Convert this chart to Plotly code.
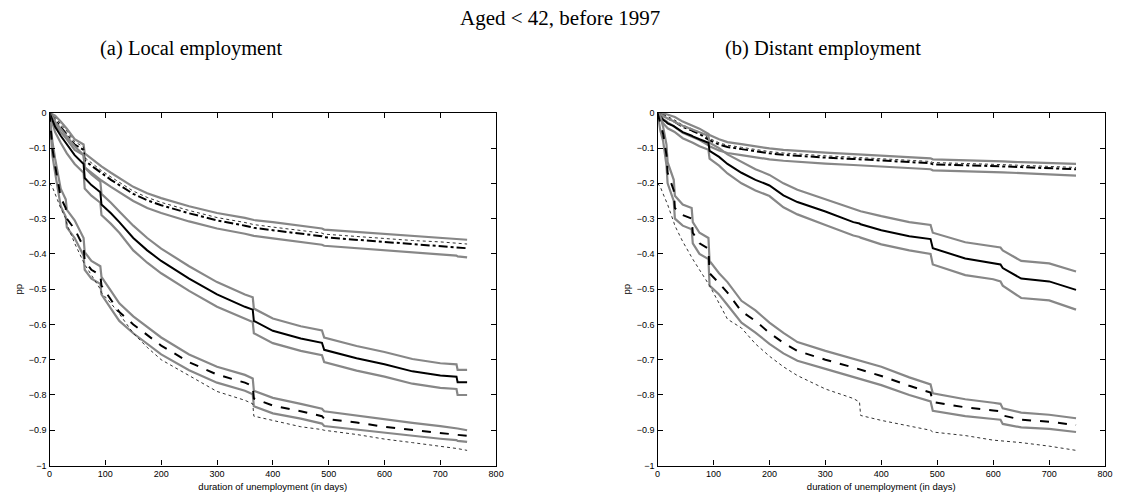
import plotly.graph_objects as go

# ---------------- data: left panel (a) Local employment ----------------
X_L = [0, 5, 10, 20, 29, 31, 45, 61, 63, 75, 91, 93, 110, 125, 150, 175, 200, 250, 300, 350, 364, 366, 400, 450, 488, 492, 550, 600, 650, 700, 729, 731, 748]

L_top = [0, -0.01, -0.02, -0.04, -0.055, -0.06, -0.09, -0.105, -0.135, -0.15, -0.168, -0.172, -0.19, -0.205, -0.23, -0.248, -0.262, -0.285, -0.305, -0.32, -0.324, -0.326, -0.333, -0.343, -0.35, -0.353, -0.36, -0.366, -0.372, -0.377, -0.38, -0.382, -0.384]
L_top_up = [0, -0.003, -0.008, -0.025, -0.04, -0.045, -0.075, -0.09, -0.115, -0.13, -0.148, -0.152, -0.17, -0.185, -0.21, -0.228, -0.242, -0.265, -0.284, -0.298, -0.302, -0.304, -0.31, -0.32, -0.328, -0.331, -0.338, -0.344, -0.35, -0.355, -0.358, -0.359, -0.36]
L_top_lo = [0, -0.017, -0.032, -0.055, -0.07, -0.075, -0.105, -0.12, -0.155, -0.17, -0.188, -0.192, -0.21, -0.225, -0.25, -0.27, -0.284, -0.308, -0.328, -0.343, -0.347, -0.349, -0.356, -0.366, -0.374, -0.377, -0.384, -0.39, -0.396, -0.401, -0.405, -0.407, -0.41]
L_top_dot = [0, -0.005, -0.013, -0.032, -0.047, -0.052, -0.082, -0.097, -0.127, -0.142, -0.16, -0.164, -0.182, -0.197, -0.222, -0.24, -0.254, -0.277, -0.297, -0.311, -0.315, -0.317, -0.324, -0.334, -0.341, -0.344, -0.351, -0.357, -0.362, -0.366, -0.369, -0.37, -0.372]

L_mid = [0, -0.02, -0.04, -0.065, -0.085, -0.09, -0.12, -0.145, -0.185, -0.205, -0.225, -0.26, -0.285, -0.31, -0.355, -0.39, -0.42, -0.47, -0.515, -0.55, -0.558, -0.59, -0.618, -0.64, -0.652, -0.672, -0.696, -0.713, -0.733, -0.745, -0.748, -0.764, -0.764]
L_mid_up = [0, -0.01, -0.025, -0.045, -0.06, -0.065, -0.095, -0.12, -0.155, -0.175, -0.195, -0.23, -0.255, -0.28, -0.32, -0.355, -0.385, -0.435, -0.48, -0.515, -0.523, -0.555, -0.583, -0.605, -0.617, -0.637, -0.661, -0.678, -0.698, -0.71, -0.713, -0.729, -0.729]
L_mid_lo = [0, -0.03, -0.055, -0.085, -0.11, -0.115, -0.145, -0.17, -0.215, -0.235, -0.255, -0.29, -0.315, -0.34, -0.39, -0.425, -0.455, -0.505, -0.55, -0.585, -0.593, -0.625, -0.653, -0.675, -0.687, -0.707, -0.731, -0.748, -0.768, -0.78, -0.783, -0.80, -0.80]

L_bot = [0, -0.10, -0.15, -0.24, -0.27, -0.30, -0.33, -0.38, -0.42, -0.445, -0.46, -0.49, -0.53, -0.565, -0.60, -0.63, -0.66, -0.707, -0.742, -0.765, -0.775, -0.81, -0.83, -0.846, -0.86, -0.867, -0.878, -0.89, -0.898, -0.907, -0.911, -0.913, -0.916]
L_bot_up = [0, -0.08, -0.13, -0.215, -0.245, -0.275, -0.305, -0.355, -0.395, -0.42, -0.435, -0.465, -0.505, -0.54, -0.577, -0.607, -0.637, -0.685, -0.72, -0.743, -0.753, -0.788, -0.808, -0.825, -0.839, -0.846, -0.858, -0.87, -0.879, -0.888, -0.893, -0.895, -0.9]
L_bot_lo = [0, -0.12, -0.17, -0.265, -0.295, -0.325, -0.355, -0.405, -0.445, -0.47, -0.485, -0.515, -0.555, -0.59, -0.625, -0.655, -0.685, -0.73, -0.765, -0.788, -0.798, -0.832, -0.852, -0.867, -0.881, -0.888, -0.898, -0.908, -0.916, -0.924, -0.928, -0.93, -0.933]
L_bot_dot = [-0.2, -0.21, -0.23, -0.27, -0.3, -0.315, -0.37, -0.42, -0.43, -0.46, -0.5, -0.51, -0.54, -0.57, -0.625, -0.665, -0.70, -0.745, -0.79, -0.815, -0.825, -0.86, -0.872, -0.89, -0.898, -0.90, -0.912, -0.925, -0.935, -0.945, -0.951, -0.952, -0.957]

# ---------------- data: right panel (b) Distant employment ----------------
X_R = [0, 5, 10, 16, 18, 29, 31, 45, 61, 63, 75, 91, 93, 110, 125, 150, 175, 200, 225, 250, 300, 350, 361, 363, 400, 450, 488, 492, 550, 600, 613, 617, 650, 700, 748]

R_top = [0, -0.005, -0.01, -0.014, -0.016, -0.024, -0.026, -0.04, -0.05, -0.052, -0.06, -0.075, -0.078, -0.09, -0.097, -0.103, -0.11, -0.115, -0.119, -0.122, -0.127, -0.131, -0.132, -0.133, -0.136, -0.14, -0.143, -0.146, -0.148, -0.15, -0.151, -0.152, -0.154, -0.157, -0.16]
R_top_up = [0, 0, -0.002, -0.004, -0.005, -0.011, -0.012, -0.025, -0.035, -0.037, -0.045, -0.06, -0.063, -0.075, -0.083, -0.089, -0.096, -0.101, -0.105, -0.108, -0.113, -0.117, -0.118, -0.119, -0.122, -0.126, -0.129, -0.132, -0.134, -0.136, -0.137, -0.138, -0.14, -0.142, -0.145]
R_top_lo = [0, -0.01, -0.018, -0.024, -0.027, -0.038, -0.041, -0.057, -0.067, -0.069, -0.077, -0.092, -0.095, -0.107, -0.114, -0.12, -0.127, -0.132, -0.136, -0.139, -0.144, -0.148, -0.149, -0.15, -0.153, -0.157, -0.16, -0.163, -0.165, -0.167, -0.168, -0.169, -0.171, -0.174, -0.178]
R_top_dot = [0, -0.002, -0.005, -0.009, -0.011, -0.019, -0.021, -0.035, -0.045, -0.047, -0.055, -0.07, -0.073, -0.085, -0.092, -0.098, -0.105, -0.11, -0.114, -0.117, -0.122, -0.126, -0.127, -0.128, -0.131, -0.135, -0.138, -0.141, -0.143, -0.145, -0.146, -0.147, -0.149, -0.152, -0.155]

R_mid = [0, -0.01, -0.02, -0.027, -0.03, -0.038, -0.04, -0.055, -0.065, -0.067, -0.075, -0.085, -0.108, -0.125, -0.145, -0.17, -0.19, -0.206, -0.234, -0.253, -0.28, -0.31, -0.314, -0.316, -0.333, -0.35, -0.358, -0.384, -0.413, -0.425, -0.43, -0.44, -0.47, -0.478, -0.502]
R_mid_up = [0, -0.005, -0.01, -0.014, -0.016, -0.024, -0.026, -0.037, -0.047, -0.049, -0.057, -0.065, -0.085, -0.1, -0.118, -0.14, -0.16, -0.176, -0.2, -0.218, -0.245, -0.273, -0.277, -0.279, -0.293, -0.31, -0.318, -0.34, -0.367, -0.378, -0.382, -0.39, -0.42, -0.427, -0.45]
R_mid_lo = [0, -0.015, -0.03, -0.04, -0.044, -0.053, -0.055, -0.072, -0.083, -0.085, -0.095, -0.105, -0.13, -0.15, -0.172, -0.2, -0.22, -0.236, -0.268, -0.288, -0.318, -0.348, -0.352, -0.354, -0.373, -0.39, -0.4, -0.43, -0.46, -0.472, -0.478, -0.49, -0.525, -0.532, -0.558]

R_bot = [0, -0.03, -0.06, -0.12, -0.17, -0.22, -0.27, -0.29, -0.30, -0.34, -0.37, -0.385, -0.455, -0.483, -0.51, -0.563, -0.59, -0.624, -0.652, -0.675, -0.70, -0.722, -0.727, -0.729, -0.746, -0.774, -0.793, -0.82, -0.835, -0.844, -0.846, -0.858, -0.87, -0.876, -0.885]
R_bot_up = [0, -0.01, -0.04, -0.09, -0.14, -0.19, -0.235, -0.26, -0.27, -0.31, -0.34, -0.355, -0.42, -0.455, -0.48, -0.533, -0.56, -0.595, -0.624, -0.65, -0.675, -0.698, -0.703, -0.705, -0.72, -0.75, -0.77, -0.795, -0.812, -0.822, -0.825, -0.838, -0.85, -0.856, -0.866]
R_bot_lo = [0, -0.05, -0.08, -0.15, -0.2, -0.25, -0.3, -0.32, -0.33, -0.37, -0.4, -0.415, -0.49, -0.515, -0.545, -0.595, -0.623, -0.655, -0.682, -0.703, -0.726, -0.748, -0.753, -0.755, -0.772, -0.8, -0.818, -0.845, -0.86, -0.868, -0.87, -0.882, -0.892, -0.896, -0.905]
R_bot_dot = [-0.2, -0.21, -0.23, -0.25, -0.26, -0.31, -0.32, -0.365, -0.41, -0.415, -0.445, -0.485, -0.49, -0.54, -0.585, -0.61, -0.655, -0.69, -0.72, -0.745, -0.783, -0.81, -0.82, -0.858, -0.872, -0.888, -0.9, -0.905, -0.915, -0.928, -0.93, -0.931, -0.935, -0.945, -0.957]

TITLE = "Aged &lt; 42, before 1997"
SUB_A = "(a) Local employment"
SUB_B = "(b) Distant employment"
X_TITLE = "duration of unemployment (in days)"
Y_TITLE = "pp"

GREY = "#878787"
fig = go.Figure()


def add_panel(X, groups, xa, ya):
    for (center, up, lo, dot, dash) in groups:
        for band in (up, lo):
            fig.add_trace(go.Scatter(x=X, y=band, mode="lines", line=dict(color=GREY, width=2.2),
                                     xaxis=xa, yaxis=ya, showlegend=False, hoverinfo="skip"))
        if dot is not None:
            fig.add_trace(go.Scatter(x=X, y=dot, mode="lines", line=dict(color="#333", width=1, dash="dot"),
                                     xaxis=xa, yaxis=ya, showlegend=False, hoverinfo="skip"))
        fig.add_trace(go.Scatter(x=X, y=center, mode="lines", line=dict(color="black", width=2, dash=dash),
                                 xaxis=xa, yaxis=ya, showlegend=False, hoverinfo="skip"))


add_panel(X_L, [(L_top, L_top_up, L_top_lo, L_top_dot, "dashdot"),
                (L_mid, L_mid_up, L_mid_lo, None, "solid"),
                (L_bot, L_bot_up, L_bot_lo, L_bot_dot, "dash")], "x", "y")
add_panel(X_R, [(R_top, R_top_up, R_top_lo, R_top_dot, "dashdot"),
                (R_mid, R_mid_up, R_mid_lo, None, "solid"),
                (R_bot, R_bot_up, R_bot_lo, R_bot_dot, "dash")], "x2", "y2")

W, H = 1125, 497
ydom = [1 - 470 / H, 1 - 110 / H]
tickfont = dict(family="Liberation Sans, Arial", size=9, color="black")
axis_common = dict(showgrid=False, zeroline=False, showline=True, linecolor="black", linewidth=1.2,
                   mirror="ticks", ticks="inside", ticklen=5, tickcolor="black", tickwidth=1,
                   tickfont=tickfont)
xcommon = dict(axis_common, range=[0, 800], dtick=100, tick0=0,
               title=dict(text=X_TITLE, font=dict(family="Liberation Sans, Arial", size=9.5, color="black"), standoff=4))
ycommon = dict(axis_common, range=[-1, 0], dtick=0.1, tick0=0,
               title=dict(text=Y_TITLE, font=dict(family="Liberation Sans, Arial", size=9.5, color="black"), standoff=4))

serif = "Liberation Serif, DejaVu Serif"
fig.update_layout(
    width=W, height=H, margin=dict(l=0, r=0, t=0, b=0),
    plot_bgcolor="white", paper_bgcolor="white",
    xaxis=dict(xcommon, domain=[47 / W, 498 / W], anchor="y"),
    yaxis=dict(ycommon, domain=ydom, anchor="x"),
    xaxis2=dict(xcommon, domain=[661 / W, 1113 / W], anchor="y2"),
    yaxis2=dict(ycommon, domain=ydom, anchor="x2"),
    annotations=[
        dict(text=TITLE, x=562 / W, y=1 - 13 / H, xref="paper", yref="paper", showarrow=False,
             xanchor="center", yanchor="middle", font=dict(family=serif, size=21, color="black")),
        dict(text=SUB_A, x=190 / W, y=1 - 44 / H, xref="paper", yref="paper", showarrow=False,
             xanchor="center", yanchor="middle", font=dict(family=serif, size=20.5, color="black")),
        dict(text=SUB_B, x=828 / W, y=1 - 44 / H, xref="paper", yref="paper", showarrow=False,
             xanchor="center", yanchor="middle", font=dict(family=serif, size=20.5, color="black")),
    ],
)

fig.write_html("out.html", config={"displayModeBar": False},
               post_script="document.body.style.margin='0';document.body.style.overflow='hidden';")
